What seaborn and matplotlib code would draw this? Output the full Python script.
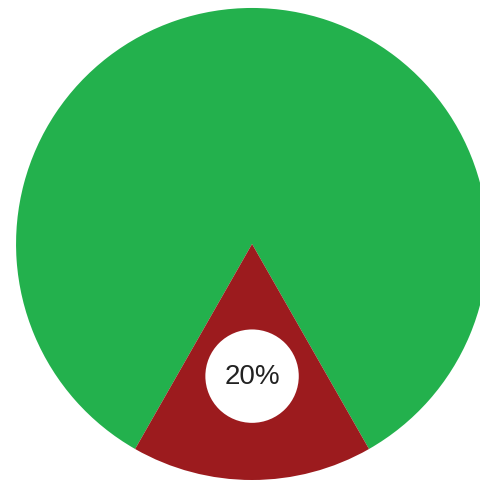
import matplotlib
matplotlib.use('Agg')
import matplotlib.pyplot as plt
import seaborn as sns

sns.set_theme(style='white')
plt.rcParams['font.family'] = ['Liberation Sans', 'DejaVu Sans']

categories = ['Other', 'Share']
values = [83.5, 16.5]          # wedge sizes as drawn
label_text = ['', '20%']       # printed label
colors = ['#23B14D', '#9C1B1E']

fig = plt.figure(figsize=(4.81, 4.81), dpi=100)
ax = fig.add_axes([0, 0, 1, 1])

# centre the small wedge at the bottom
start = 270 + values[1] / sum(values) * 180

wedges, texts = ax.pie(
    values, colors=colors, startangle=start, counterclock=True,
    labels=label_text, labeldistance=0.56, radius=1,
    wedgeprops=dict(linewidth=0),
    textprops=dict(fontsize=20, color='#222222', ha='center', va='center'))

for t in texts:
    if t.get_text():
        t.set_bbox(dict(boxstyle='circle,pad=0.68', fc='white', ec='none'))

ax.set_xlim(-1.068, 0.970)
ax.set_ylim(-1.0, 1.038)
ax.set_aspect('equal')
ax.axis('off')

fig.savefig('out.png', dpi=100)
